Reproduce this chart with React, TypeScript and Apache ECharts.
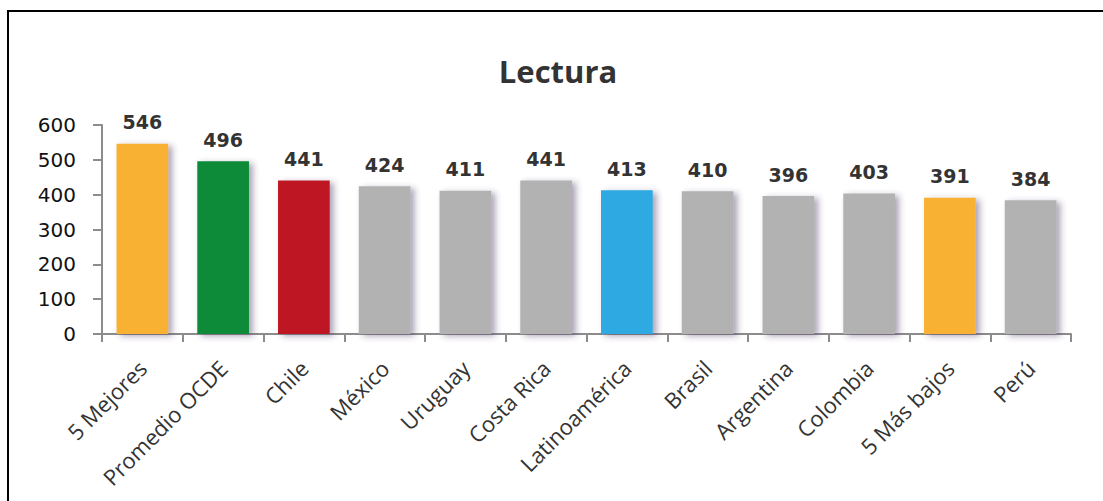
import React, { useEffect, useRef } from "react";
import * as echarts from "echarts";

const categories = ["5 Mejores", "Promedio OCDE", "Chile", "México", "Uruguay", "Costa Rica", "Latinoamérica", "Brasil", "Argentina", "Colombia", "5 Más bajos", "Perú"];
const values = [546, 496, 441, 424, 411, 441, 413, 410, 396, 403, 391, 384];
const barColors = ["#F8B133", "#0E8B37", "#BE1622", "#B2B2B2", "#B2B2B2", "#B2B2B2", "#2DA9E1", "#B2B2B2", "#B2B2B2", "#B2B2B2", "#F8B133", "#B2B2B2"];
const yTicks = [0, 100, 200, 300, 400, 500, 600];

export default function App() {
  const ref = useRef<HTMLDivElement>(null);
  useEffect(() => {
    const chart = echarts.init(ref.current!, undefined, { renderer: "svg" });
    chart.setOption({
      animation: false,
      backgroundColor: "#fff",
      title: {
        text: "Lectura",
        left: 553,
        textAlign: "center",
        top: 50,
        textStyle: { fontFamily: "Open Sans", fontWeight: "bold", fontSize: 31, color: "#333" },
      },
      graphic: [
        {
          type: "rect",
          shape: { x: 8, y: 11, width: 1110, height: 520 },
          style: { fill: "none", stroke: "#000", lineWidth: 2 },
        },
      ],
      grid: { left: 102, right: 32, top: 125, bottom: 167 },
      xAxis: {
        type: "category",
        data: categories,
        axisLine: { lineStyle: { color: "#8C8C8C", width: 2 } },
        axisTick: { show: true, alignWithLabel: false, length: 8, lineStyle: { color: "#8C8C8C", width: 2 } },
        axisLabel: {
          rotate: 45,
          interval: 0,
          margin: 30,
          fontFamily: "Open Sans",
          fontSize: 22,
          color: "#333",
        },
      },
      yAxis: {
        type: "value",
        min: yTicks[0],
        max: yTicks[yTicks.length - 1],
        interval: 100,
        splitLine: { show: false },
        axisLine: { show: true, lineStyle: { color: "#8C8C8C", width: 2 } },
        axisTick: { show: true, length: 9, lineStyle: { color: "#8C8C8C", width: 2 } },
        axisLabel: { margin: 26, fontFamily: "DejaVu Sans", fontSize: 20, color: "#111" },
      },
      series: [
        {
          type: "bar",
          barWidth: "64%",
          data: values.map((v, i) => ({ value: v, itemStyle: { color: barColors[i] } })),
          itemStyle: {
            shadowColor: "rgba(70,50,100,0.45)",
            shadowBlur: 6,
            shadowOffsetX: 4,
            shadowOffsetY: 2,
          },
          label: {
            show: true,
            position: "top",
            distance: 12,
            fontFamily: "DejaVu Sans",
            fontWeight: "bold",
            fontSize: 19,
            color: "#333",
          },
        },
      ],
    });
    return () => chart.dispose();
  }, []);
  return <div ref={ref} style={{ position: "absolute", left: 0, top: 0, width: 1103, height: 501 }} />;
}
